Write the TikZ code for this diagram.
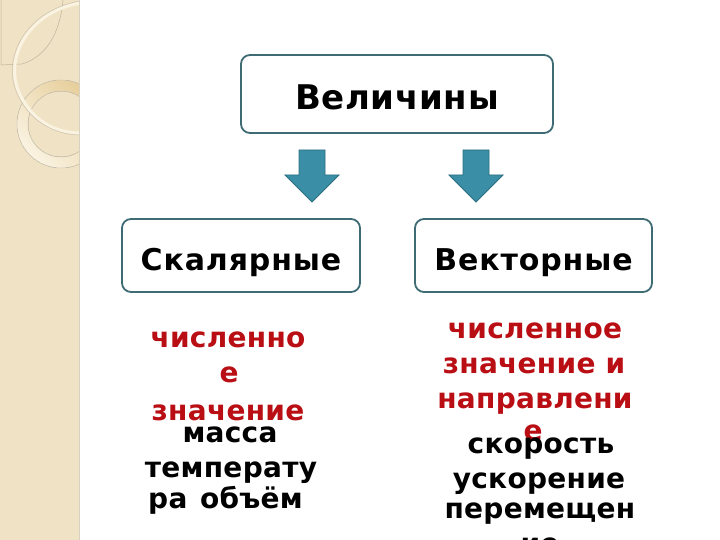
\documentclass[tikz,border=0pt]{standalone}
\usepackage{fontspec}
\setmainfont{DejaVu Sans}
\newfontfamily\lblfont[LetterSpace=1]{DejaVu Sans}
\newfontfamily\ttlfont[LetterSpace=2]{DejaVu Sans}
\newfontfamily\boxfont[LetterSpace=3]{DejaVu Sans}
\definecolor{bandc}{HTML}{F0E2C4}
\definecolor{bandline}{HTML}{BFB39A}
\definecolor{ringdark}{HTML}{E6CD98}
\definecolor{ringlight}{HTML}{FAF3E2}
\definecolor{boxline}{HTML}{3E6B74}
\definecolor{arrowfill}{HTML}{3A8EA6}
\definecolor{arrowline}{HTML}{2D6F80}
\definecolor{redtxt}{HTML}{B90E14}
\tikzset{
  box/.style={draw=boxline, line width=1.8pt, rounded corners=9pt, fill=white, inner sep=0pt, text depth=0pt},
  blockarrow/.style={fill=arrowfill, draw=arrowline, line width=0.8pt},
  redline/.style={anchor=base, inner sep=0pt, text=redtxt, font=\lblfont\bfseries\fontsize{28}{33}\selectfont},
  blackline/.style={anchor=base, inner sep=0pt, text=black, font=\lblfont\bfseries\fontsize{28}{33}\selectfont}
}
\begin{document}
\begin{tikzpicture}[x=1pt,y=-1pt]
\useasboundingbox (0,0) rectangle (720,540);
\fill[white] (0,0) rectangle (720,540);
% decorative band
\fill[bandc] (0,0) rectangle (79,540);
\begin{scope}
\clip (0,0) rectangle (79,540);
\draw[bandline, line width=0.5pt] (1,0) -- (1,65) -- (22,64);
\draw[bandline, line width=0.5pt] (63,0) .. controls (60,35) and (45,57) .. (22,64);
\fill[even odd rule, left color=ringlight, right color=ringdark, shading angle=135]
  (61,124) circle (44) (61,124) circle (33);
\draw[bandline!70, line width=0.5pt] (61,124) circle (44) (61,124) circle (33);
\draw[ringlight, line width=3pt] (80,3) .. controls (30,12) and (5,55) .. (18,90) .. controls (30,120) and (55,133) .. (80,133);
\draw[bandline!80, line width=0.5pt] (80,1) .. controls (28,10) and (2,55) .. (16,91) .. controls (28,121) and (55,135) .. (80,135);
\end{scope}
\draw[bandline!60, line width=0.6pt] (79,0) -- (79,540);

% boxes
\node[box, minimum width=312pt, minimum height=78pt, text height=32pt,
      font=\ttlfont\bfseries\fontsize{34}{40}\selectfont] (vel) at (397,94) {Величины};
\node[box, minimum width=238pt, minimum height=73pt, text height=29pt,
      font=\boxfont\bfseries\fontsize{30}{35}\selectfont] (sk) at (241,255.5) {Скалярные};
\node[box, minimum width=237pt, minimum height=73pt, text height=29pt,
      font=\boxfont\bfseries\fontsize{30}{35}\selectfont] (ve) at (533.5,255.5) {Векторные};

% block arrows
\coordinate (a1) at (312,150);
\coordinate (a2) at (476,150);
\foreach \c in {a1,a2}{
  \draw[blockarrow] ([xshift=-13pt]\c) -- ([xshift=13pt]\c) -- ([shift={(13pt,-25pt)}]\c)
    -- ([shift={(27pt,-25pt)}]\c) -- ([yshift=-52pt]\c) -- ([shift={(-27pt,-25pt)}]\c)
    -- ([shift={(-13pt,-25pt)}]\c) -- cycle;
}

% left column
\node[redline] (r1) at (228,347) {численно};
\node[redline] (r2) at (229,382) {е};
\node[redline] (r3) at (228,420) {значение};
\node[blackline] (b1) at (230,442) {масса};
\node[blackline] (b2) at (231,477) {температу};
\node[blackline, anchor=base west] (b3) at (148,508) {ра\hspace{0.45em}объём};

% right column
\node[redline] (r4) at (535,338) {численное};
\node[redline] (r5) at (534,373) {значение и};
\node[redline] (r6) at (535,408) {направлени};
\node[redline] (r7) at (533,440) {е};
\node[blackline] (b4) at (541,453) {скорость};
\node[blackline] (b5) at (539,488) {ускорение};
\node[blackline] (b6) at (540,518) {перемещен};
\node[blackline] (b7) at (540,553) {ие};
\end{tikzpicture}
\end{document}
